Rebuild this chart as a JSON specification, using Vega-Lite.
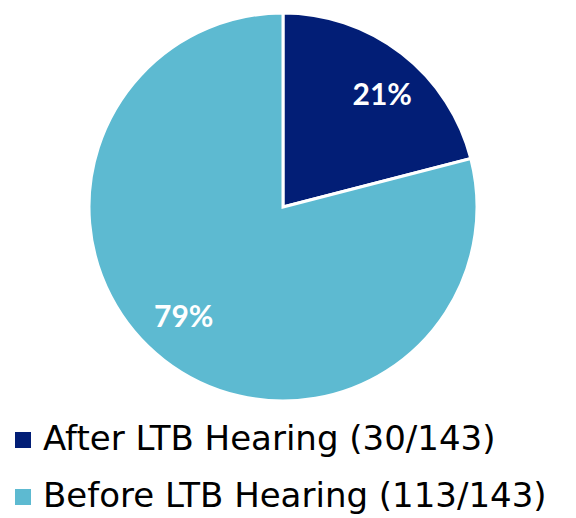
{
  "$schema": "https://vega.github.io/schema/vega-lite/v6.json",
  "width": 566,
  "height": 414,
  "autosize": "none",
  "padding": {"left": 0, "top": 0, "right": 10, "bottom": 104},
  "background": "white",
  "data": {
    "values": [
      {"category": "After LTB Hearing (30/143)", "count": 30, "pct": "21%"},
      {"category": "Before LTB Hearing (113/143)", "count": 113, "pct": "79%"}
    ]
  },
  "encoding": {
    "theta": {"field": "count", "type": "quantitative", "stack": true},
    "order": {"field": "count", "type": "quantitative", "sort": "ascending"}
  },
  "layer": [
    {
      "mark": {"type": "arc", "outerRadius": 194, "stroke": "white", "strokeWidth": 3},
      "encoding": {
        "color": {
          "field": "category",
          "type": "nominal",
          "scale": {
            "domain": ["After LTB Hearing (30/143)", "Before LTB Hearing (113/143)"],
            "range": ["#021e76", "#5dbad1"]
          },
          "legend": {
            "orient": "none",
            "legendX": 6,
            "legendY": 423,
            "title": null,
            "symbolType": "square",
            "symbolSize": 256,
            "symbolStrokeWidth": 0,
            "labelFontSize": 34,
            "labelFont": "DejaVu Sans",
            "labelColor": "black",
            "labelOffset": 3,
            "labelLimit": 700,
            "rowPadding": 23
          }
        }
      }
    },
    {
      "mark": {"type": "text", "radius": 149, "thetaOffset": 0.07, "font": "Lato", "fontWeight": "bold", "fontSize": 30, "fill": "white"},
      "encoding": {
        "text": {"field": "pct", "type": "nominal"}
      }
    }
  ]
}
